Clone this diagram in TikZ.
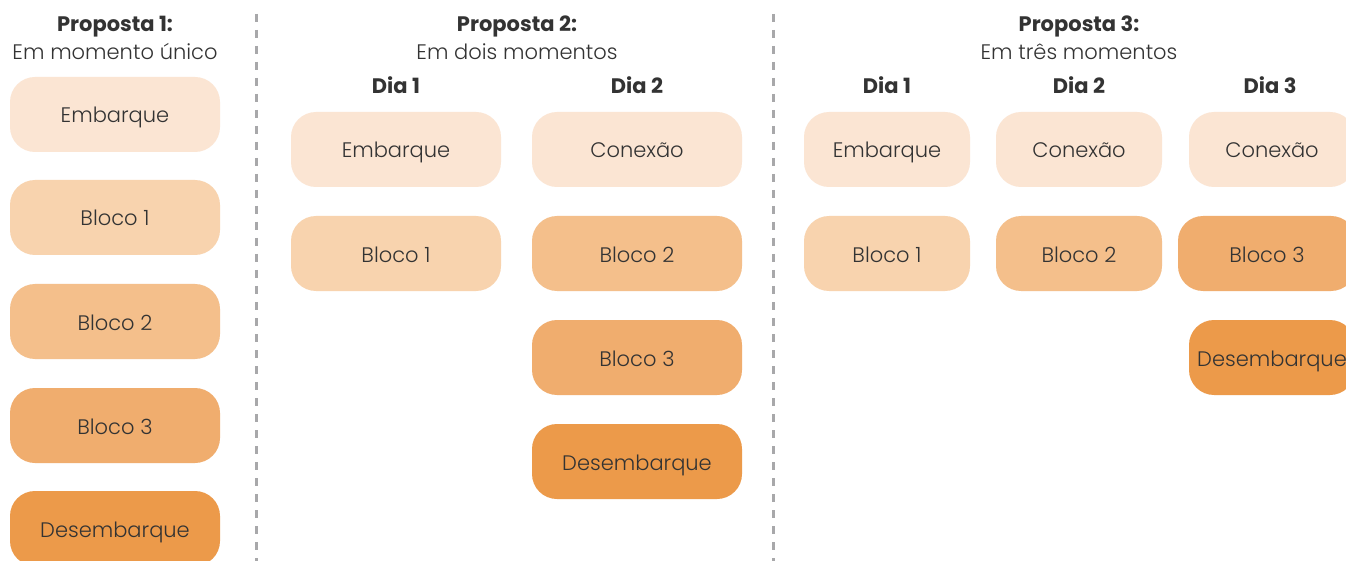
\documentclass[tikz,border=0pt]{standalone}
\usepackage{fontspec}
\setmainfont{Poppins}
\newfontfamily\fina{Poppins Light}
\definecolor{tomA}{HTML}{FBE5D3}
\definecolor{tomB}{HTML}{F8D3AE}
\definecolor{tomC}{HTML}{F4BF8B}
\definecolor{tomD}{HTML}{F0AD6E}
\definecolor{tomE}{HTML}{EC9A4A}
\definecolor{texto}{HTML}{333333}
\definecolor{linha}{HTML}{A8A8AA}

\begin{document}
\begin{tikzpicture}[x=1pt,y=-1pt,
  caixa/.style={rounded corners=25pt,minimum height=75pt,minimum width=210pt,inner sep=0pt,text=texto,font=\fina\fontsize{21}{24}\selectfont,text height=17pt,text depth=0pt},
  estreita/.style={caixa,minimum width=166pt},
  titulo/.style={text=texto,font=\fontsize{21}{24}\selectfont\bfseries,text height=17pt,text depth=0pt,inner sep=0pt},
  subtitulo/.style={text=texto,font=\fina\fontsize{21}{24}\selectfont,text height=17pt,text depth=0pt,inner sep=0pt},
  divisoria/.style={linha,line width=3pt,dash pattern=on 8pt off 8pt}]
\useasboundingbox (0,0) rectangle (1346,561);
\clip (0,0) rectangle (1346,561);
\fill[white] (0,0) rectangle (1346,561);
% proposta 1
\node[titulo] (p1) at (115,23.5) {Proposta 1:};
\node[subtitulo] (p1sub) at (115,51.5) {Em momento único};
\node[caixa,fill=tomA] (p1emb) at (115,114.5) {Embarque};
\node[caixa,fill=tomB] (p1b1) at (115,217.5) {Bloco 1};
\node[caixa,fill=tomC] (p1b2) at (115,321.5) {Bloco 2};
\node[caixa,fill=tomD] (p1b3) at (115,425.5) {Bloco 3};
\node[caixa,fill=tomE] (p1des) at (115,528.5) {Desembarque};
\draw[divisoria] (256,14) -- (256,561);
% proposta 2
\node[titulo] (p2) at (517,23.5) {Proposta 2:};
\node[subtitulo] (p2sub) at (517,51.5) {Em dois momentos};
\node[titulo] (p2d1) at (396,84.7) {Dia 1};
\node[titulo] (p2d2) at (637,84.7) {Dia 2};
\node[caixa,fill=tomA] (p2emb) at (396,149.5) {Embarque};
\node[caixa,fill=tomB] (p2b1) at (396,253.5) {Bloco 1};
\node[caixa,fill=tomA] (p2con) at (637,149.5) {Conexão};
\node[caixa,fill=tomC] (p2b2) at (637,253.5) {Bloco 2};
\node[caixa,fill=tomD] (p2b3) at (637,357.5) {Bloco 3};
\node[caixa,fill=tomE] (p2des) at (637,461.5) {Desembarque};
\draw[divisoria] (773,14) -- (773,561);
% proposta 3
\node[titulo] (p3) at (1079,23.5) {Proposta 3:};
\node[subtitulo] (p3sub) at (1079,51.5) {Em três momentos};
\node[titulo] (p3d1) at (887,84.7) {Dia 1};
\node[titulo] (p3d2) at (1079,84.7) {Dia 2};
\node[titulo] (p3d3) at (1270,84.7) {Dia 3};
\node[estreita,fill=tomA] (p3emb) at (887,149.5) {Embarque};
\node[estreita,fill=tomB] (p3b1) at (887,253.5) {Bloco 1};
\node[estreita,fill=tomA] (p3con1) at (1079,149.5) {Conexão};
\node[estreita,fill=tomC] (p3b2) at (1079,253.5) {Bloco 2};
\node[estreita,fill=tomA] (p3con2) at (1272,149.5) {Conexão};
\node[estreita,fill=tomD,minimum width=178pt] (p3b3) at (1267,253.5) {Bloco 3};
\node[estreita,fill=tomE] (p3des) at (1272,357.5) {Desembarque};
\end{tikzpicture}
\end{document}
